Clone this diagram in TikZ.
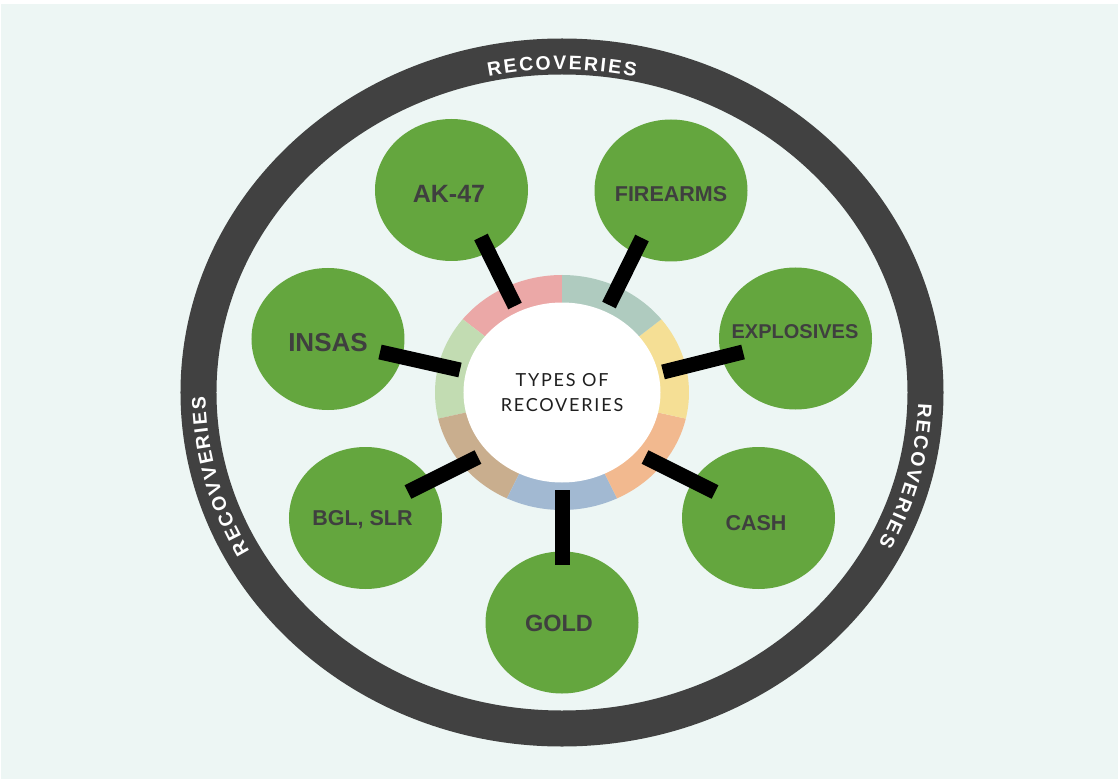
\documentclass[tikz,border=0pt]{standalone}
\usepackage{fontspec}
\setmainfont{Liberation Sans}
\newfontfamily\hubfamily{Lato}[LetterSpace=10]
\usetikzlibrary{shapes.geometric}

\definecolor{bg}{HTML}{EDF6F4}
\definecolor{ringgray}{HTML}{414141}
\definecolor{leaf}{HTML}{64A63E}
\definecolor{labelgray}{HTML}{3F3F3F}
\definecolor{pinkseg}{HTML}{EBA8A7}
\definecolor{sageseg}{HTML}{C2DCB2}
\definecolor{tanseg}{HTML}{C9AE8E}
\definecolor{blueseg}{HTML}{A2B9D2}
\definecolor{peachseg}{HTML}{F2B98F}
\definecolor{sandseg}{HTML}{F5DF95}
\definecolor{tealseg}{HTML}{AFCBBF}

\begin{document}
\begin{tikzpicture}
    [x=1pt,y=1pt,
     item/.style={ellipse,fill=leaf,minimum width=153pt,minimum height=142pt,inner sep=0pt},
     tag/.style={inner sep=0pt,text depth=0pt,text=labelgray,font=\bfseries\fontsize{#1}{#1}\selectfont},
     hub/.style={ellipse,fill=white,minimum width=197pt,minimum height=180pt,inner sep=0pt,
                 align=center,text=black!88,font=\hubfamily\fontsize{18}{25}\selectfont},
     bar/.style={line width=15pt},
     letter/.style={anchor=base,inner sep=0pt,text=white,font=\bfseries\fontsize{19.5}{19.5}\selectfont}]
    % background
    \fill[white] (-562,-386.5) rectangle (556,392.5);
    \fill[bg] (-561,-386.5) rectangle (556,388.5);
    % outer band
    \draw[ringgray,line width=36pt] (0,0) ellipse [x radius=363.5pt,y radius=336pt];
    % its labels, one letter at a time, read clockwise
    \foreach \ch/\o [count=\k] in {R/-66.8,E/-51.05,C/-35.3,O/-18.45,V/-2.15,
                                   E/13.05,R/28.8,I/40.75,E/52.15,S/67.35}{
        \pgfmathsetmacro\t{90-\o/350*57.2958}
        \pgfmathsetmacro\r{atan2(-323*cos(\t),350*sin(\t))}
        \node[letter,rotate=\r] (top-\k) at (\t:350pt and 323pt) {\ch};
    }
    \foreach \ch/\o [count=\k] in {R/-74.4,E/-58.65,C/-42.9,O/-26.05,V/-9.75,V/5.45,
                                   E/20.65,R/36.4,I/48.35,E/59.75,S/74.95}{
        \pgfmathsetmacro\t{194.8-\o/332*57.2958}
        \pgfmathsetmacro\r{atan2(-329*cos(\t),356.5*sin(\t))}
        \node[letter,rotate=\r] (left-\k) at (\t:356.5pt and 329pt) {\ch};
    }
    \foreach \ch/\o [count=\k] in {R/-66.8,E/-51.05,C/-35.3,O/-18.45,V/-2.15,
                                   E/13.05,R/28.8,I/40.75,E/52.15,S/67.35}{
        \pgfmathsetmacro\t{-14.65-\o/332*57.2958}
        \pgfmathsetmacro\r{atan2(-329*cos(\t),356.5*sin(\t))}
        \node[letter,rotate=\r] (right-\k) at (\t:356.5pt and 329pt) {\ch};
    }
    % coloured ring round the hub, 7 parts
    \foreach \c [count=\i from 0,evaluate=\i as \a using 90+\i*360/7,
                 evaluate=\i as \b using 90+(\i+1)*360/7]
        in {pinkseg,sageseg,tanseg,blueseg,peachseg,sandseg,tealseg}
        \fill[\c] (\a:127pt and 117.5pt) arc[start angle=\a,end angle=\b,x radius=127pt,y radius=117.5pt]
            -- (\b:98pt and 89.5pt) arc[start angle=\b,end angle=\a,x radius=98pt,y radius=89.5pt] -- cycle;
    \node[hub] (hub) at (0,0) {TYPES OF\\RECOVERIES};
    % the seven kinds
    \node[item] (ak47) at (-110.5,202.5) {};
    \node[item] (firearms) at (109,202) {};
    \node[item] (explosives) at (233.5,54) {};
    \node[item] (cash) at (196.5,-125.5) {};
    \node[item] (gold) at (0,-230) {};
    \node[item] (bglslr) at (-196.5,-125.5) {};
    \node[item] (insas) at (-234,53.5) {};
    \node[tag=25] (ak47-t) at (-113,198.5) {AK-47};
    \node[tag=21.5] (firearms-t) at (109,198.5) {FIREARMS};
    \node[tag=20] (explosives-t) at (233,60.5) {EXPLOSIVES};
    \node[tag=21.5] (cash-t) at (194,-130.5) {CASH};
    \node[tag=23.5] (gold-t) at (-3,-230.5) {GOLD};
    \node[tag=21.5] (bglslr-t) at (-199.5,-125.5) {BGL, SLR};
    \node[tag=26] (insas-t) at (-234,50.5) {INSAS};
    % bar ends
    \coordinate (ak47-a) at (-47,86.5);     \coordinate (ak47-b) at (-81,155.5);
    \coordinate (firearms-a) at (47,87.5);  \coordinate (firearms-b) at (80,154.5);
    \coordinate (explosives-a) at (101,20.5); \coordinate (explosives-b) at (181,40.5);
    \coordinate (cash-a) at (83,-64.5);     \coordinate (cash-b) at (153,-99.5);
    \coordinate (gold-a) at (0,-97.5);      \coordinate (gold-b) at (0,-172.5);
    \coordinate (bglslr-a) at (-84,-64.5);  \coordinate (bglslr-b) at (-154,-99.5);
    \coordinate (insas-a) at (-102,22.5);   \coordinate (insas-b) at (-182,40.5);
    \foreach \n in {ak47,firearms,explosives,cash,gold,bglslr,insas}
        \draw[bar] (\n-a) -- (\n-b);
\end{tikzpicture}
\end{document}
